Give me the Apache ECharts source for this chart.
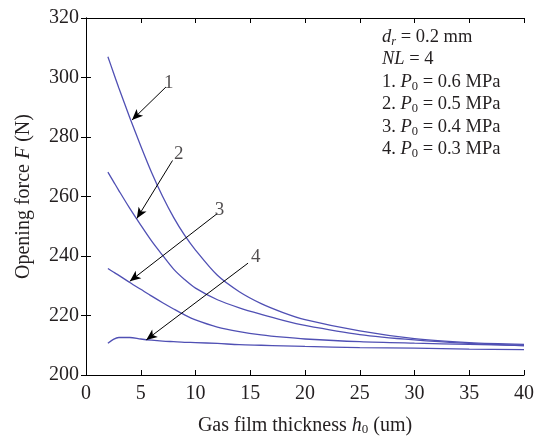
<!DOCTYPE html>
<html>
<head>
<meta charset="utf-8">
<script src="https://cdn.jsdelivr.net/npm/echarts@6/dist/echarts.min.js"></script>
<style>
  html, body { margin: 0; padding: 0; background: #fff; }
  #main { width: 544px; height: 441px; }
</style>
</head>
<body>
<div id="main"></div>
<script>
// gas film thickness h0 (um)
var hVals = [2, 2.5, 3, 4, 5, 6, 7, 8, 9, 10, 12, 14, 16, 18, 20, 25, 30, 35, 40];
// opening force F (N) for each supply pressure
var curve1 = [307, 301.7, 296.5, 286.5, 277, 268, 260, 253, 247, 242, 233.5, 228, 224, 221, 218.6, 214.8, 212.2, 210.9, 210.3];
var curve2 = [268.2, 265.1, 262, 256, 250.4, 245, 240.2, 235.6, 232.1, 229.2, 225.3, 222.6, 220.4, 218.4, 216.7, 213.6, 211.8, 210.6, 209.8];
var curve3 = [235.8, 234.6, 233.5, 231.1, 228.8, 226.5, 224.3, 222.2, 220.2, 218.5, 216.1, 214.6, 213.5, 212.7, 212.1, 211.2, 210.7, 210.3, 210];
var curve4 = [210.7, 212, 212.6, 212.6, 212.1, 211.7, 211.4, 211.2, 211, 210.9, 210.6, 210.2, 210, 209.8, 209.6, 209.2, 209, 208.7, 208.5];

// arrow annotations: [tail, head] in data coords
var arrows = [
    [[7.3, 296.8], [4.2, 285.7]],
    [[7.9, 272.1], [4.64, 252.6]],
    [[12.0, 254.3], [4.0, 231.5]],
    [[14.8, 237.6], [5.5, 211.8]]
];
var arrowLabels = [
    ['1', 7.55, 298.2],
    ['2', 8.46, 274.4],
    ['3', 12.2, 255.4],
    ['4', 15.5, 239.8]
];

var noteLines = [
    '{i|d}{si|r} = 0.2 mm',
    '{i|NL} = 4',
    '1. {i|P}{s|0} = 0.6 MPa',
    '2. {i|P}{s|0} = 0.5 MPa',
    '3. {i|P}{s|0} = 0.4 MPa',
    '4. {i|P}{s|0} = 0.3 MPa'
];

var serif = '"Liberation Serif", "Times New Roman", serif';
var txt = '#231f20';
var lineColor = '#5050b4';

function pairs(ys) {
    return hVals.map(function (h, i) { return [h, ys[i]]; });
}

var richStyles = {
    i: {fontFamily: serif, fontStyle: 'italic', fontSize: 20, color: txt},
    s: {fontFamily: serif, fontSize: 13, color: txt, verticalAlign: 'bottom', lineHeight: 13},
    si: {fontFamily: serif, fontSize: 13, fontStyle: 'italic', color: txt, verticalAlign: 'bottom', lineHeight: 13}
};

var chart = echarts.init(document.getElementById('main'));

var option = {
    backgroundColor: '#fff',
    animation: false,
    grid: {left: 86, right: 20, top: 18, bottom: 65},
    xAxis: [
        {
            type: 'value', min: 0, max: 40, interval: 5,
            name: 'Gas film thickness {i|h}{s|0} (um)',
            nameLocation: 'middle', nameGap: 41,
            nameTextStyle: {fontFamily: serif, fontSize: 20, color: txt, rich: richStyles},
            axisLine: {lineStyle: {color: '#000', width: 1}},
            axisTick: {inside: true, length: 5, lineStyle: {color: '#000'}},
            axisLabel: {fontFamily: serif, fontSize: 20, color: txt, margin: 9},
            splitLine: {show: false}
        },
        {
            type: 'value', min: 0, max: 40, interval: 5, position: 'top',
            axisLine: {show: true, lineStyle: {color: '#000', width: 1}},
            axisTick: {show: true, inside: true, length: 5, lineStyle: {color: '#000'}},
            axisLabel: {show: false},
            splitLine: {show: false}
        }
    ],
    yAxis: [
        {
            type: 'value', min: 200, max: 320, interval: 20,
            name: 'Opening force {i|F} (N)',
            nameLocation: 'middle', nameGap: 52,
            nameTextStyle: {fontFamily: serif, fontSize: 20, color: txt, rich: richStyles},
            axisLine: {show: true, lineStyle: {color: '#000', width: 1}},
            axisTick: {show: true, inside: true, length: 5, lineStyle: {color: '#000'}},
            axisLabel: {fontFamily: serif, fontSize: 20, color: txt, margin: 7},
            splitLine: {show: false}
        },
        {
            type: 'value', min: 200, max: 320, interval: 20, position: 'right',
            axisLine: {show: true, lineStyle: {color: '#000', width: 1}},
            axisTick: {show: true, inside: true, length: 5, lineStyle: {color: '#000'}},
            axisLabel: {show: false},
            splitLine: {show: false}
        }
    ],
    series: [curve1, curve2, curve3, curve4].map(function (c) {
        return {
            type: 'line', data: pairs(c), smooth: 0.3, showSymbol: false,
            lineStyle: {color: lineColor, width: 1.3}
        };
    }).concat([
        {
            type: 'line', data: [], silent: true,
            markLine: {
                silent: true,
                symbol: ['none', 'arrow'],
                symbolSize: [7, 11],
                label: {show: false},
                lineStyle: {color: '#000', width: 1, type: 'solid'},
                data: arrows.map(function (a) {
                    return [{coord: a[0]}, {coord: a[1]}];
                })
            }
        },
        {
            type: 'scatter', symbolSize: 0, silent: true,
            data: arrowLabels.map(function (l) { return {name: l[0], value: [l[1], l[2]]}; }),
            label: {
                show: true, position: 'inside', formatter: '{b}',
                fontFamily: serif, fontSize: 19, color: txt
            }
        }
    ]),
    graphic: [{
        type: 'text',
        left: 382,
        top: 26,
        style: {
            text: noteLines.join('\n'),
            fontFamily: serif,
            fontSize: 18.5,
            lineHeight: 22.4,
            fill: txt,
            rich: {
                i: {fontFamily: serif, fontStyle: 'italic', fontSize: 18.5, lineHeight: 22.4, fill: txt},
                s: {fontFamily: serif, fontSize: 12.5, fill: txt, verticalAlign: 'bottom', lineHeight: 13},
                si: {fontFamily: serif, fontSize: 12.5, fontStyle: 'italic', fill: txt, verticalAlign: 'bottom', lineHeight: 13}
            }
        }
    }]
};

chart.setOption(option);
</script>
</body>
</html>
